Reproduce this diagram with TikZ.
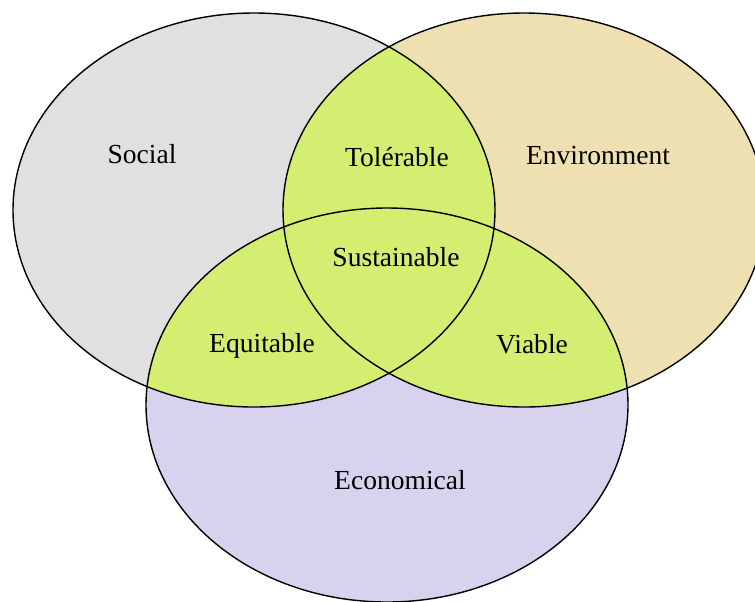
\documentclass[tikz,border=0pt]{standalone}
\usepackage{fontspec}
\setmainfont{Liberation Serif}
\usetikzlibrary{positioning}

\definecolor{socialgray}{HTML}{E0E0E0}
\definecolor{envtan}{HTML}{EEE0B0}
\definecolor{ecolilac}{HTML}{D8D2EE}
\definecolor{lensgreen}{HTML}{D3EE70}

\tikzset{
	setname/.style={font=\fontsize{19.6}{23}\selectfont, inner sep=0pt},
	rim/.style={draw=black, line width=1pt},
}

\begin{document}
\begin{tikzpicture}
\useasboundingbox (0,0) rectangle (18.875,-15.025);
% the sets
\def\Soc{(6.35,-5.25) ellipse (6.025cm and 4.925cm)}
\def\Env{(13.1,-5.25) ellipse (6.025cm and 4.925cm)}
\def\Eco{(9.675,-10.125) ellipse (6.025cm and 4.925cm)}
\fill[socialgray] \Soc;
\fill[envtan] \Env;
\fill[ecolilac] \Eco;

% the overlaps
\begin{scope}
\clip \Soc;
\fill[lensgreen] \Env;
\fill[lensgreen] \Eco;
\end{scope}
\begin{scope}
\clip \Env;
\fill[lensgreen] \Eco;
\end{scope}

% the rims
\draw[rim] \Soc;
\draw[rim] \Env;
\draw[rim] \Eco;

% the names
\node[setname] at (3.55,-3.85) (social) {Social};
\node[setname] at (14.95,-3.9) (environment) {Environment};
\node[setname] at (10.0,-12.0) (economical) {Economical};
\node[setname] at (9.925,-3.925) (tolerable) {Tolérable};
\node[setname] at (9.9,-6.425) (sustainable) {Sustainable};
\node[setname] at (6.55,-8.65) (equitable) {Equitable};
\node[setname] at (13.3,-8.6) (viable) {Viable};

\end{tikzpicture}
\end{document}
